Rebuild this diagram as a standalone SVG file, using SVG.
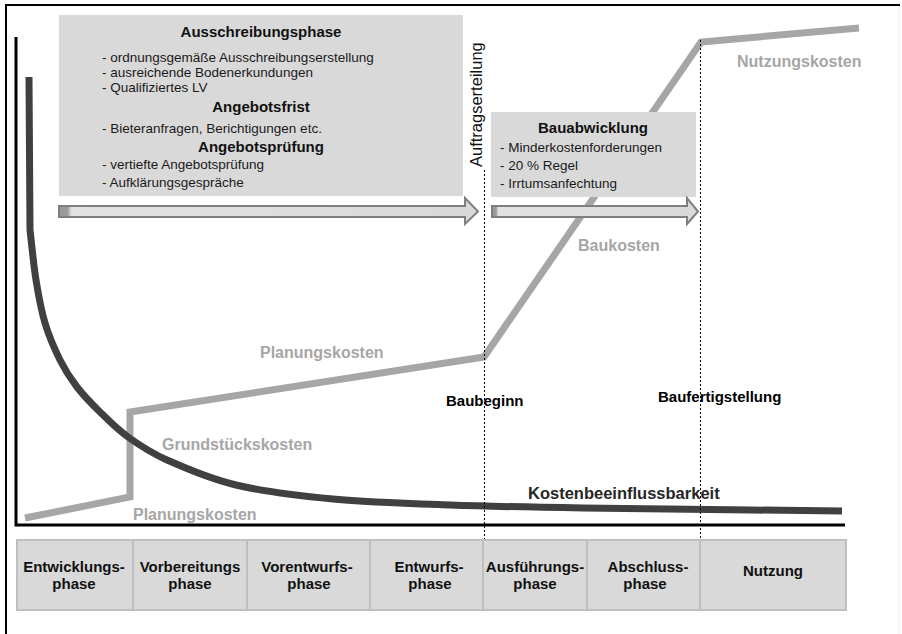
<svg xmlns="http://www.w3.org/2000/svg" width="902" height="634" viewBox="0 0 902 634">
<defs>
<style>
text{font-family:"Liberation Sans",Arial,sans-serif}
.box{fill:#d9d9d9}
.t{font-size:13.5px;fill:#1a1a1a}
.h{font-size:15px;font-weight:bold;fill:#111;text-anchor:middle}
.gl{font-size:16px;font-weight:bold;fill:#a6a6a6}
.ml{font-size:15px;font-weight:bold;fill:#000}
.cell{fill:#d9d9d9;stroke:#bfbfbf;stroke-width:2}
.ct{font-size:15px;font-weight:bold;fill:#111;text-anchor:middle}
.arrow{fill:url(#ag);stroke:#7f7f7f;stroke-width:2;stroke-linejoin:miter}
.dot{stroke:#000;stroke-width:1;stroke-dasharray:2 2;fill:none}
</style>
<linearGradient id="ag" x1="0" y1="0" x2="1" y2="0">
<stop offset="0" stop-color="#9a9a9a"/>
<stop offset="0.02" stop-color="#9a9a9a"/>
<stop offset="0.03" stop-color="#e2e2e2"/>
<stop offset="1" stop-color="#d9d9d9"/>
</linearGradient>
</defs>
<rect x="0" y="0" width="902" height="634" fill="#fff"/>
<g id="frame">
<line x1="5" y1="5" x2="900" y2="5" stroke="#000" stroke-width="2"/>
<line x1="6" y1="5" x2="6" y2="634" stroke="#000" stroke-width="2"/>
<line x1="899" y1="7" x2="899" y2="634" stroke="#ececec" stroke-width="1"/>
</g>
<g id="axes">
<path d="M16,37 V525 H845" fill="none" stroke="#000" stroke-width="3"/>
</g>
<g id="box-ausschreibung">
<rect class="box" x="59" y="15" width="404" height="181"/>
<text class="h" x="261" y="37">Ausschreibungsphase</text>
<text class="t" x="102" y="62">- ordnungsgemäße Ausschreibungserstellung</text>
<text class="t" x="102" y="77">- ausreichende Bodenerkundungen</text>
<text class="t" x="102" y="92">- Qualifiziertes LV</text>
<text class="h" x="261" y="112">Angebotsfrist</text>
<text class="t" x="102" y="133">- Bieteranfragen, Berichtigungen etc.</text>
<text class="h" x="261" y="152">Angebotsprüfung</text>
<text class="t" x="102" y="169">- vertiefte Angebotsprüfung</text>
<text class="t" x="102" y="187">- Aufklärungsgespräche</text>
</g>
<g id="curves">
<polyline points="25,518 130,497 130,412 484,357 701,42 859,28" fill="none" stroke="#a6a6a6" stroke-width="7" stroke-linejoin="miter"/>
<path d="M29,77 L30,230 C32,246.7 33.5,264.5 36,280 C38.5,295.5 41,309.7 45,323 C49,336.3 54.7,349.3 60,360 C65.3,370.7 70.3,378.3 77,387 C83.7,395.7 91.5,403.7 100,412 C108.5,420.3 116.8,429 128,437 C139.2,445 149,452 167,460 C185,468 208.3,478.5 236,485 C263.7,491.5 297.3,495.7 333,499 C368.7,502.3 408.3,503.5 450,505 C491.7,506.5 517.7,507 583,508 C648.3,509 755.7,510 842,511" fill="none" stroke="#404040" stroke-width="7"/>
</g>
<g id="box-bauabwicklung">
<rect class="box" x="491" y="112" width="205" height="85"/>
<text class="h" x="593" y="133">Bauabwicklung</text>
<text class="t" x="500" y="152">- Minderkostenforderungen</text>
<text class="t" x="500" y="170">- 20 % Regel</text>
<text class="t" x="500" y="188">- Irrtumsanfechtung</text>
</g>
<g id="connectors">
<polygon class="arrow" points="59,206 465,206 465,198 478,211.5 465,224 465,217 59,217"/>
<polygon class="arrow" points="492,206 687,206 687,198 698,211.5 687,224 687,217 492,217"/>
<line class="dot" x1="484.5" y1="170" x2="484.5" y2="540"/>
<line class="dot" x1="700.5" y1="40" x2="700.5" y2="540"/>
</g>
<g id="label-auftragserteilung">
<text x="0" y="0" transform="translate(482,167) rotate(-90)" style="font-size:16.5px;fill:#111">Auftragserteilung</text>
</g>
<g id="labels">
<text class="gl" x="737" y="67">Nutzungskosten</text>
<text class="gl" x="578" y="251">Baukosten</text>
<text class="gl" x="260" y="358">Planungskosten</text>
<text class="gl" x="162" y="450">Grundstückskosten</text>
<text class="gl" x="133" y="520">Planungskosten</text>
<text class="ml" x="446" y="406">Baubeginn</text>
<text class="ml" x="658" y="402">Baufertigstellung</text>
<text x="528" y="499" style="font-size:16.5px;font-weight:bold;fill:#262626">Kostenbeeinflussbarkeit</text>
</g>
<g id="phases">
<g id="phase-entwicklung"><rect class="cell" x="17" y="540" width="116" height="70"/><text class="ct" x="74" y="572">Entwicklungs-</text><text class="ct" x="74" y="589">phase</text></g>
<g id="phase-vorbereitung"><rect class="cell" x="133" y="540" width="114" height="70"/><text class="ct" x="190" y="572">Vorbereitungs</text><text class="ct" x="190" y="589">phase</text></g>
<g id="phase-vorentwurf"><rect class="cell" x="247" y="540" width="123" height="70"/><text class="ct" x="307" y="572">Vorentwurfs-</text><text class="ct" x="309" y="589">phase</text></g>
<g id="phase-entwurf"><rect class="cell" x="370" y="540" width="113" height="70"/><text class="ct" x="429" y="572">Entwurfs-</text><text class="ct" x="430" y="589">phase</text></g>
<g id="phase-ausfuehrung"><rect class="cell" x="483" y="540" width="104" height="70"/><text class="ct" x="535" y="572">Ausführungs-</text><text class="ct" x="535" y="589">phase</text></g>
<g id="phase-abschluss"><rect class="cell" x="587" y="540" width="113" height="70"/><text class="ct" x="648" y="572">Abschluss-</text><text class="ct" x="645" y="589">phase</text></g>
<g id="phase-nutzung"><rect class="cell" x="700" y="540" width="146" height="70"/><text class="ct" x="773" y="576">Nutzung</text></g>
</g>
</svg>
